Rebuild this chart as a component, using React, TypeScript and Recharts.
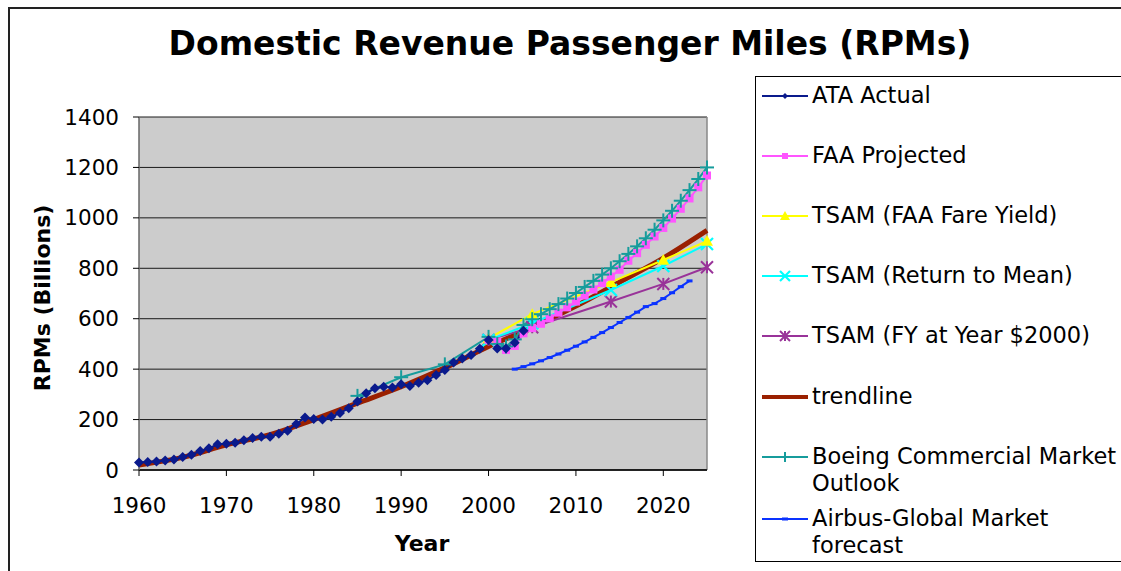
import React from "react";
import {
  CartesianGrid,
  ComposedChart,
  Line,
  ReferenceLine,
  XAxis,
  YAxis,
} from "recharts";

// ---- data ----
const ataYears = [
  1960, 1961, 1962, 1963, 1964, 1965, 1966, 1967, 1968, 1969, 1970, 1971, 1972, 1973, 1974,
  1975, 1976, 1977, 1978, 1979, 1980, 1981, 1982, 1983, 1984, 1985, 1986, 1987, 1988, 1989,
  1990, 1991, 1992, 1993, 1994, 1995, 1996, 1997, 1998, 1999, 2000, 2001, 2002, 2003, 2004,
];
const ataValues = [
  30, 32, 34, 38, 42, 52, 60, 75, 86, 102, 104, 108, 118, 127, 132,
  132, 144, 156, 182, 208, 202, 200, 211, 226, 245, 272, 304, 324, 330, 327,
  340, 333, 346, 356, 377, 397, 426, 442, 456, 481, 516, 482, 482, 505, 552,
];

const faaYears = [
  2000, 2001, 2002, 2003, 2004, 2005, 2006, 2007, 2008, 2009, 2010, 2011, 2012,
  2013, 2014, 2015, 2016, 2017, 2018, 2019, 2020, 2021, 2022, 2023, 2024, 2025,
];
const faaValues = [
  516, 509, 476, 492, 542, 563, 580, 602, 624, 645, 668, 692, 716,
  741, 767, 794, 830, 860, 893, 926, 960, 997, 1036, 1077, 1121, 1168,
];

const tsamYears = [2000, 2005, 2014, 2020, 2025];
const fareYieldValues = [522, 618, 745, 833, 908];
const returnMeanValues = [515, 582, 714, 809, 896];
const fy2000Values = [516, 566, 668, 738, 804];

const trendYears = [1960, 1965, 1970, 1975, 1980, 1985, 1990, 1995, 2000, 2005, 2010, 2015, 2020, 2025];
const trendValues = [20, 50, 100, 140, 200, 265, 330, 405, 490, 565, 650, 745, 840, 950];

const boeingYears = [
  1985, 1990, 1995, 2000, 2001, 2002, 2003, 2004, 2005, 2006, 2007, 2008, 2009, 2010,
  2011, 2012, 2013, 2014, 2015, 2016, 2017, 2018, 2019, 2020, 2021, 2022, 2023, 2024, 2025,
];
const boeingValues = [
  294, 368, 419, 528, 500, 490, 518, 575, 598, 618, 638, 658, 680, 702,
  726, 750, 775, 800, 828, 857, 887, 919, 953, 990, 1028, 1068, 1110, 1154, 1200,
];

const airbusYears = [
  2003, 2004, 2005, 2006, 2007, 2008, 2009, 2010, 2011, 2012, 2013,
  2014, 2015, 2016, 2017, 2018, 2019, 2020, 2021, 2022, 2023,
];
const airbusValues = [
  400, 410, 421, 433, 446, 460, 475, 491, 508, 526, 545,
  565, 585, 605, 626, 648, 660, 680, 703, 727, 750,
];

const xTicks = [1960, 1970, 1980, 1990, 2000, 2010, 2020];
const yTicks = [0, 200, 400, 600, 800, 1000, 1200, 1400];

const zip = (years: number[], values: number[]) =>
  years.map((year, i) => ({ year, v: values[i] }));

const FONT = "'DejaVu Sans', Verdana, sans-serif";

type Shape = "diamond" | "square" | "triangle" | "x" | "star" | "plus" | "dash" | "none";

function drawMarker(shape: Shape, cx: number, cy: number, color: string, s: number, key?: any) {
  switch (shape) {
    case "diamond":
      return (
        <polygon key={key} points={`${cx},${cy - s} ${cx + s},${cy} ${cx},${cy + s} ${cx - s},${cy}`} fill={color} />
      );
    case "square":
      return <rect key={key} x={cx - s} y={cy - s} width={2 * s} height={2 * s} fill={color} />;
    case "triangle":
      return (
        <polygon key={key} points={`${cx},${cy - s} ${cx + s},${cy + s * 0.8} ${cx - s},${cy + s * 0.8}`} fill={color} />
      );
    case "x":
      return (
        <g key={key} stroke={color} strokeWidth={2.2}>
          <line x1={cx - s} y1={cy - s} x2={cx + s} y2={cy + s} />
          <line x1={cx - s} y1={cy + s} x2={cx + s} y2={cy - s} />
        </g>
      );
    case "star":
      return (
        <g key={key} stroke={color} strokeWidth={2}>
          <line x1={cx - s} y1={cy - s} x2={cx + s} y2={cy + s} />
          <line x1={cx - s} y1={cy + s} x2={cx + s} y2={cy - s} />
          <line x1={cx} y1={cy - s} x2={cx} y2={cy + s} />
        </g>
      );
    case "plus":
      return (
        <g key={key} stroke={color} strokeWidth={2}>
          <line x1={cx - s} y1={cy} x2={cx + s} y2={cy} />
          <line x1={cx} y1={cy - s} x2={cx} y2={cy + s} />
        </g>
      );
    case "dash":
      return <rect key={key} x={cx - s} y={cy - 1.5} width={2 * s} height={3} fill={color} />;
    default:
      return <g key={key} />;
  }
}

const dotFn = (shape: Shape, color: string, s: number) => (p: any) => {
  if (p.cx == null || p.cy == null) return <g key={p.index} />;
  return drawMarker(shape, p.cx, p.cy, color, s, p.index);
};

type Series = {
  name: string;
  color: string;
  width: number;
  shape: Shape;
  size: number;
  legendSize: number;
  data: { year: number; v: number }[];
};

const trend: Series = {
  name: "trendline", color: "#9a2000", width: 5, shape: "none", size: 0, legendSize: 0,
  data: zip(trendYears, trendValues),
};

const series: Series[] = [
  { name: "Airbus-Global Market forecast", color: "#0a32ff", width: 2, shape: "dash", size: 3, legendSize: 3, data: zip(airbusYears, airbusValues) },
  { name: "TSAM (FY at Year $2000)", color: "#993399", width: 2, shape: "star", size: 6, legendSize: 5, data: zip(tsamYears, fy2000Values) },
  { name: "TSAM (Return to Mean)", color: "#00ffff", width: 2, shape: "x", size: 6, legendSize: 5, data: zip(tsamYears, returnMeanValues) },
  { name: "TSAM (FAA Fare Yield)", color: "#ffff00", width: 2, shape: "triangle", size: 6, legendSize: 5, data: zip(tsamYears, fareYieldValues) },
  { name: "FAA Projected", color: "#ff55ff", width: 2, shape: "square", size: 4, legendSize: 3, data: zip(faaYears, faaValues) },
  { name: "Boeing Commercial Market Outlook", color: "#169c9c", width: 2, shape: "plus", size: 7, legendSize: 5, data: zip(boeingYears, boeingValues) },
  { name: "ATA Actual", color: "#0a1a8c", width: 2, shape: "diamond", size: 5, legendSize: 3, data: zip(ataYears, ataValues) },
];

const legendOrder = [
  { s: series[6], top: 81 },
  { s: series[4], top: 141 },
  { s: series[3], top: 201 },
  { s: series[2], top: 261 },
  { s: series[1], top: 321 },
  { s: trend, top: 382 },
  { s: series[5], top: 442 },
  { s: series[0], top: 504 },
];

function LegendBox() {
  return (
    <div
      style={{
        position: "absolute",
        left: 755,
        top: 76,
        width: 380,
        height: 484,
        border: "1px solid #000",
        background: "#fff",
        fontFamily: FONT,
        fontSize: 22.5,
        color: "#000",
      }}
    >
      {legendOrder.map(({ s, top }) => (
        <div key={s.name} style={{ position: "absolute", left: 4, top: top - 76, display: "flex" }}>
          <svg width={52} height={28} style={{ flex: "none" }}>
            <line x1={2} y1={14} x2={48} y2={14} stroke={s.color} strokeWidth={s.shape === "none" ? 4 : 2} />
            {drawMarker(s.shape, 25, 14, s.color, s.legendSize)}
          </svg>
          <div style={{ lineHeight: "27px", width: 330 }}>{s.name}</div>
        </div>
      ))}
    </div>
  );
}

export default function App() {
  return (
    <div
      style={{
        position: "absolute",
        left: 0,
        top: 0,
        width: 1121,
        height: 571,
        background: "#fff",
        overflow: "hidden",
        fontFamily: FONT,
      }}
    >
      <div
        style={{
          position: "absolute",
          left: 8,
          top: 7,
          width: 1200,
          height: 600,
          borderLeft: "2px solid #222",
          borderTop: "2px solid #222",
        }}
      />
      <div
        style={{
          position: "absolute",
          left: 0,
          top: 24,
          width: 1140,
          textAlign: "center",
          fontWeight: "bold",
          fontSize: 33,
          color: "#000",
        }}
      >
        Domestic Revenue Passenger Miles (RPMs)
      </div>
      <div
        style={{
          position: "absolute",
          left: 42,
          top: 298,
          transform: "translate(-50%, -50%) rotate(-90deg)",
          whiteSpace: "nowrap",
          fontWeight: "bold",
          fontSize: 22,
          color: "#000",
        }}
      >
        RPMs (Billions)
      </div>
      <div
        style={{
          position: "absolute",
          left: 422,
          top: 543,
          transform: "translate(-50%, -50%)",
          fontWeight: "bold",
          fontSize: 22,
          color: "#000",
        }}
      >
        Year
      </div>
      <div style={{ position: "absolute", left: 0, top: 0 }}>
        <ComposedChart
          width={1121}
          height={571}
          margin={{ top: 117, right: 414, bottom: 61, left: 69 }}
        >
          <CartesianGrid vertical={false} fill="#cccccc" stroke="#1a1a1a" strokeWidth={1} />
          <XAxis
            dataKey="year"
            type="number"
            domain={[1960, 2025]}
            ticks={xTicks}
            allowDuplicatedCategory={false}
            height={40}
            tickSize={6}
            tickMargin={22}
            axisLine={{ stroke: "#000", strokeWidth: 1.5 }}
            tickLine={{ stroke: "#000" }}
            tick={{ fill: "#000", fontSize: 21.5, fontFamily: FONT }}
          />
          <YAxis
            type="number"
            domain={[0, 1400]}
            ticks={yTicks}
            width={70}
            tickSize={6}
            tickMargin={14}
            axisLine={{ stroke: "#666", strokeWidth: 1.5 }}
            tickLine={{ stroke: "#000" }}
            tick={{ fill: "#000", fontSize: 21.5, fontFamily: FONT }}
          />
          <ReferenceLine x={2025} stroke="#888" strokeWidth={1.5} />
          <Line
            data={trend.data}
            dataKey="v"
            name={trend.name}
            type="monotone"
            stroke={trend.color}
            strokeWidth={trend.width}
            dot={false}
            activeDot={false}
            isAnimationActive={false}
          />
          {series.map((s) => (
            <Line
              key={s.name}
              data={s.data}
              dataKey="v"
              name={s.name}
              type="linear"
              stroke={s.color}
              strokeWidth={s.width}
              dot={dotFn(s.shape, s.color, s.size)}
              activeDot={false}
              isAnimationActive={false}
            />
          ))}
        </ComposedChart>
      </div>
      <LegendBox />
    </div>
  );
}
